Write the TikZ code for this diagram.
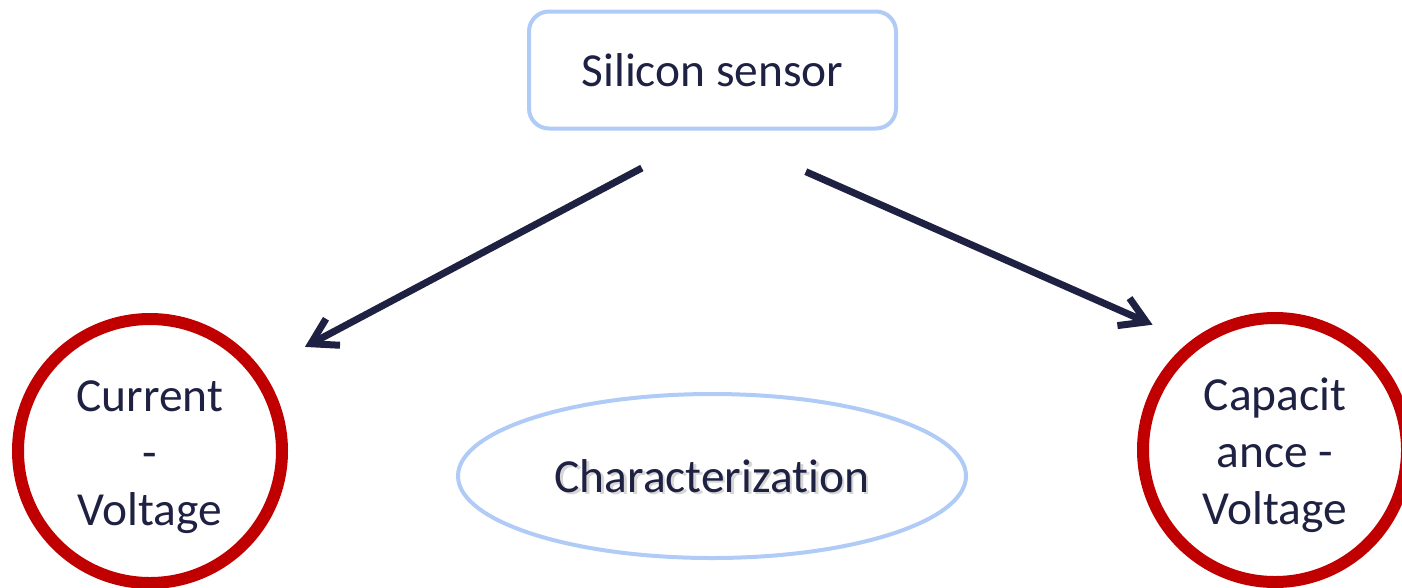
\documentclass[tikz,border=0pt]{standalone}
\usepackage{fontspec}
\setmainfont{Carlito}[Ligatures=NoCommon]
\usepackage{tikz}
\usetikzlibrary{arrows.meta, shapes.geometric, positioning}

\definecolor{navy}{HTML}{1F2142}
\definecolor{paleblue}{HTML}{AFCBF6}
\definecolor{darkred}{HTML}{C00000}

\begin{document}
\begin{tikzpicture}[
  boxtxt/.style={font=\fontsize{27}{32.4}\selectfont, text=navy, align=center},
  sensorbox/.style={boxtxt, draw=paleblue, line width=0.08cm, rounded corners=0.4cm,
    minimum width=7.34cm, minimum height=2.34cm},
  method/.style={boxtxt, draw=darkred, circle, line width=0.24cm,
    minimum size=5.28cm, inner sep=0pt, text height=84.6pt, text depth=0pt},
  topic/.style={boxtxt, draw=paleblue, ellipse, line width=0.08cm,
    minimum width=10.16cm, minimum height=3.28cm},
  shade/.style={font=\fontsize{27}{32.4}\selectfont, text=black, opacity=0.16},
  arr/.style={-{Straight Barb[length=5mm, width=6mm]}, line width=0.14cm, navy},
]

\useasboundingbox (0,0) rectangle (28.04,-11.74);

\node[sensorbox] (sensor) at (14.25,-1.40) {Silicon sensor};

% the two measurements
\node[method] (iv) at (3.0,-9.02) {Current\\-\\Voltage};
\node[method] (cv) at (25.5,-9.0) {Capacit\\ance -\\Voltage};

% soft shadow under the label, then the ellipse itself
\node[shade] (charshadow) at (14.29,-9.57) {Characterization};
\node[topic] (char) at (14.24,-9.52) {Characterization};

\draw[arr, shorten <=1.6cm, shorten >=0.98cm] (sensor.south) -- (iv.36);
\draw[arr, shorten <=2.04cm, shorten >=0.82cm] (sensor.south) -- (cv.128);

\end{tikzpicture}
\end{document}
